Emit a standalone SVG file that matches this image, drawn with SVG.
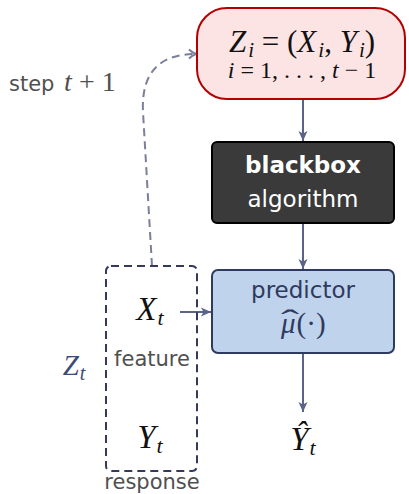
<svg xmlns="http://www.w3.org/2000/svg" width="409" height="494" viewBox="0 0 409 494">
<defs>
<marker id="ah" markerUnits="userSpaceOnUse" markerWidth="12" markerHeight="10" refX="10" refY="5" orient="auto">
<path d="M0,0.5 L10,5 L0,9.5 L2.5,5 Z" fill="#5b6388"/>
</marker>
<marker id="ahd" markerUnits="userSpaceOnUse" markerWidth="12" markerHeight="12" refX="9" refY="6" orient="auto">
<path d="M2,1.5 Q5,4.5 9,6 Q5,7.5 2,10.5" fill="none" stroke="#7a7f9a" stroke-width="2"/>
</marker>
</defs>
<style>
.math{font-family:"Liberation Serif","DejaVu Serif",serif;font-style:italic;fill:#111}
.rm{font-style:normal}
.sans{font-family:"DejaVu Sans","Liberation Sans",sans-serif}
.gray{fill:#505050}
.navy{fill:#3c4a7a}
.pred{fill:#2e3a5e}
.arrow{stroke:#5b6388;stroke-width:2;fill:none;marker-end:url(#ah)}
</style>
<g id="connectors">
<line class="arrow" x1="303" y1="99" x2="303" y2="141"/>
<line class="arrow" x1="303" y1="223" x2="303" y2="269"/>
<line class="arrow" x1="303" y1="353" x2="303" y2="412"/>
<line class="arrow" x1="180" y1="312" x2="211" y2="312"/>
<path d="M152,266 L143,112 C141,72 160,54 196,54" fill="none" stroke="#7a7f9a" stroke-width="2" stroke-dasharray="8,5" marker-end="url(#ahd)"/>
</g>
<g id="data">
<rect x="197" y="8" width="208" height="91" rx="30" fill="#fde4e4" stroke="#b30000" stroke-width="2"/>
<text class="math" x="302" y="52" font-size="31" text-anchor="middle">Z<tspan font-size="21" dx="2" dy="5">i</tspan><tspan class="rm" dy="-5"> = (</tspan>X<tspan font-size="21" dx="2" dy="5">i</tspan><tspan class="rm" dy="-5">, </tspan>Y<tspan font-size="21" dx="2" dy="5">i</tspan><tspan class="rm" dy="-5">)</tspan></text>
<text class="math" x="302" y="78" font-size="24" text-anchor="middle">i<tspan class="rm"> = 1, . . . , </tspan>t<tspan class="rm"> − 1</tspan></text>
</g>
<g id="blackbox">
<rect x="212" y="142" width="182" height="81" rx="5" fill="#3a3a3a" stroke="#000" stroke-width="2"/>
<text class="sans" x="303" y="173" font-size="23" font-weight="bold" fill="#fff" text-anchor="middle">blackbox</text>
<text class="sans" x="303" y="207" font-size="23" fill="#fff" text-anchor="middle">algorithm</text>
</g>
<g id="predictor">
<rect x="212" y="270" width="182" height="83" rx="6" fill="#bfd3ec" stroke="#2e3a5e" stroke-width="2"/>
<text class="sans pred" x="303" y="298" font-size="23" text-anchor="middle">predictor</text>
<text class="math pred" x="281" y="333" font-size="29">μ<tspan class="rm" dx="1">(·)</tspan></text>
<text class="math pred rm" x="281" y="330" font-size="30" textLength="18" lengthAdjust="spacingAndGlyphs">ˆ</text>
</g>
<g id="zt">
<rect x="106" y="266" width="91" height="205" rx="5" fill="none" stroke="#333a5a" stroke-width="2" stroke-dasharray="8,5"/>
<text class="math" x="150" y="320" font-size="33" text-anchor="middle">X<tspan font-size="22" dx="1" dy="5">t</tspan></text>
<text class="sans gray" x="152" y="366" font-size="21" text-anchor="middle">feature</text>
<text class="math" x="150" y="448" font-size="33" text-anchor="middle">Y<tspan font-size="22" dx="1" dy="5">t</tspan></text>
<text class="sans gray" x="152" y="489" font-size="21" text-anchor="middle">response</text>
<text class="math navy" x="74" y="375" font-size="29" text-anchor="middle">Z<tspan font-size="20" dx="1" dy="5">t</tspan></text>
</g>
<g id="output">
<text class="math" x="303" y="450" font-size="33" text-anchor="middle">Ŷ<tspan font-size="22" dx="1" dy="5">t</tspan></text>
</g>
<g id="step">
<text class="sans gray" x="9" y="91" font-size="21">step <tspan class="math gray" font-size="28" dx="3">t</tspan><tspan font-family="Liberation Serif" font-size="28"> + 1</tspan></text>
</g>
</svg>
